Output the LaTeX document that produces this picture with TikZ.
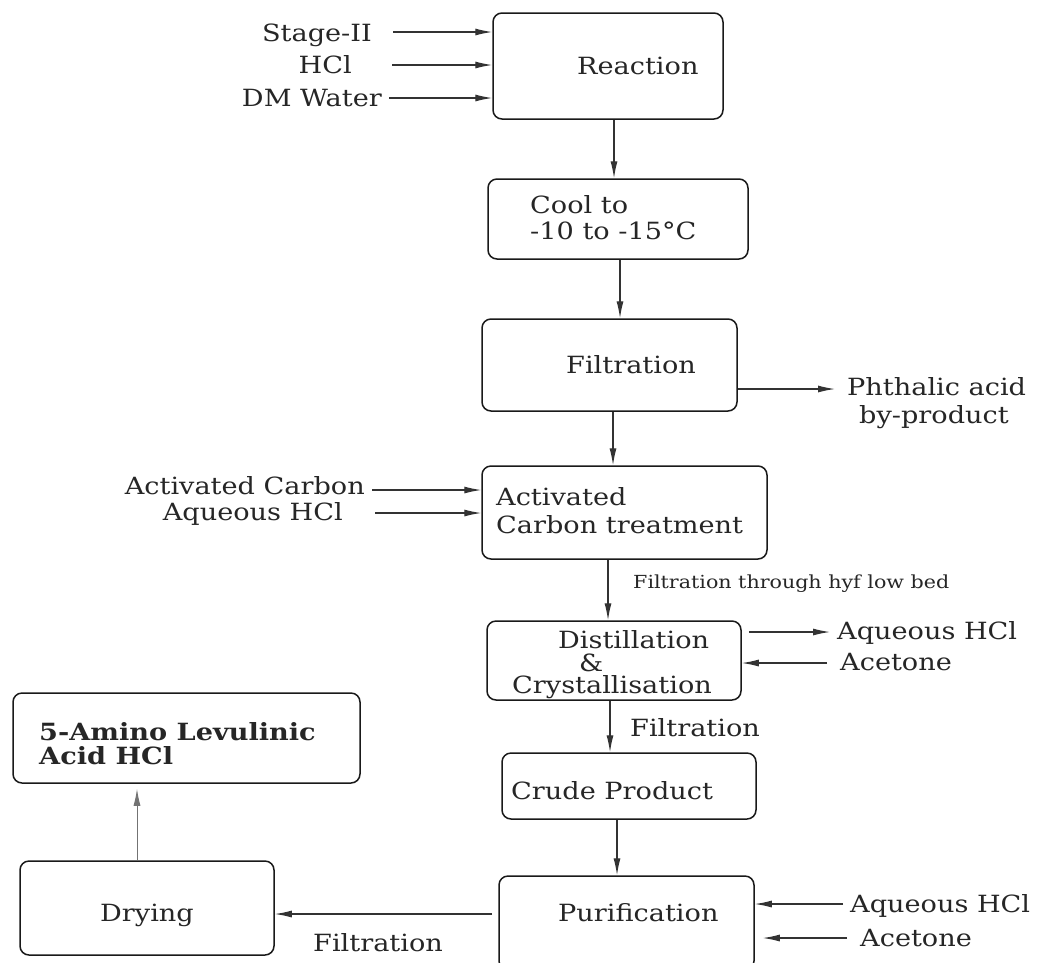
\documentclass[tikz,border=0pt]{standalone}
\usepackage{fontspec}
\setmainfont{DejaVu Serif}[FakeStretch=1.145]
\usetikzlibrary{arrows.meta, positioning}

\begin{document}
\begin{tikzpicture}[x=1pt,y=-1pt,
	box/.style={draw=black!90, line width=1.5pt, rounded corners=9pt, inner sep=0pt},
	arr/.style={-{Latex[length=17pt,width=7pt]}, line width=1.2pt, draw=black!80},
	txt/.style={inner sep=0pt, text=black!85, text height=17.3pt, text depth=0pt, font=\fontsize{23.7}{28}\selectfont},
	note/.style={txt, text height=13.2pt, font=\fontsize{18}{21}\selectfont}]
	\useasboundingbox (0,0) rectangle (1046,962);
	\node[box, minimum width=230, minimum height=106] (reac) at (608,66) {};
	\node[box, minimum width=260, minimum height=80] (cool) at (618,219) {};
	\node[box, minimum width=255, minimum height=92] (filt) at (609.5,365) {};
	\node[box, minimum width=285, minimum height=93] (actc) at (624.5,512.5) {};
	\node[box, minimum width=254, minimum height=79] (dist) at (614,660.5) {};
	\node[box, minimum width=254, minimum height=66] (crude) at (629,786) {};
	\node[box, minimum width=255, minimum height=94] (purif) at (626.5,923) {};
	\node[box, minimum width=254, minimum height=94] (dry) at (147,908) {};
	\node[box, minimum width=347, minimum height=90] (prod) at (186.5,738) {};
	% texts
	\node[txt, anchor=east] (tstage) at (372,33) {Stage-II};
	\node[txt, anchor=east] (thcl) at (352,65) {HCl};
	\node[txt, anchor=east] (twater) at (382,98) {DM Water};
	\node[txt, anchor=west] (treac) at (577,66) {Reaction};
	\node[txt, anchor=west] (tcool1) at (530,205) {Cool to};
	\node[txt, anchor=west] (tcool2) at (530,231) {-10 to -15°C};
	\node[txt, anchor=west] (tfilt) at (566,365) {Filtration};
	\node[txt, anchor=west] (tphth1) at (847,387) {Phthalic acid};
	\node[txt, anchor=west] (tphth2) at (859,415) {by-product};
	\node[txt, anchor=east] (tcarb) at (365,486) {Activated Carbon};
	\node[txt, anchor=east] (taq1) at (343,512) {Aqueous HCl};
	\node[txt, anchor=west] (tact1) at (496,497) {Activated};
	\node[txt, anchor=west] (tact2) at (496,525) {Carbon treatment};
	\node[note, anchor=west] (thyf) at (633,582) {Filtration through hyf low bed};
	\node[txt, anchor=west] (tdist1) at (558,640) {Distillation};
	\node[txt, anchor=west] (tdist2) at (579,663) {\&};
	\node[txt, anchor=west] (tdist3) at (512,685) {Crystallisation};
	\node[txt, anchor=west] (taq2) at (837,631) {Aqueous HCl};
	\node[txt, anchor=west] (tace1) at (840,662) {Acetone};
	\node[txt, anchor=west] (tfilt2) at (630,728) {Filtration};
	\node[txt, anchor=west] (tcrude) at (511,791) {Crude Product};
	\node[txt, anchor=west] (tpur) at (558,913) {Purification};
	\node[txt, anchor=west] (taq3) at (850,904) {Aqueous HCl};
	\node[txt, anchor=west] (tace2) at (860,938) {Acetone};
	\node[txt, anchor=west] (tfilt3) at (313,943) {Filtration};
	\node[txt, anchor=west] (tdry) at (100,913) {Drying};
	\node[txt, anchor=west, font=\fontsize{23.7}{28}\selectfont\bfseries] (tprod1) at (39,732) {5-Amino Levulinic};
	\node[txt, anchor=west, font=\fontsize{23.7}{28}\selectfont\bfseries] (tprod2) at (39,756) {Acid HCl};
	% feeds and flows
	\foreach \n/\x/\y in {a/393/32, b/392/65, c/389/98}
		{\coordinate (in\n) at (\x,\y); \draw[arr] (in\n) -- (in\n -| reac.west);}
	\foreach \n/\x/\y in {d/372/490, e/375/513}
		{\coordinate (in\n) at (\x,\y); \draw[arr] (in\n) -- (in\n -| actc.west);}
	\draw[arr] ([xshift=6]reac.south) -- ([xshift=6]reac.south |- cool.north);
	\draw[arr] ([xshift=2]cool.south) -- ([xshift=2]cool.south |- filt.north);
	\coordinate (outph) at (835,389);
	\draw[arr] (filt.east |- outph) -- (outph);
	\draw[arr] ([xshift=3.5]filt.south) -- ([xshift=3.5]filt.south |- actc.north);
	\draw[arr] ([xshift=-16.5]actc.south) -- ([xshift=-16.5]actc.south |- dist.north);
	\coordinate (outaq) at (830,632);
	\draw[arr] ([xshift=7]dist.east |- outaq) -- (outaq);
	\coordinate (inace) at (827,663);
	\draw[arr] (inace) -- (inace -| dist.east);
	\draw[arr] ([xshift=-4]dist.south) -- ([xshift=-4]dist.south |- crude.north);
	\draw[arr] ([xshift=-12]crude.south) -- ([xshift=-12]crude.south |- purif.north);
	\coordinate (inaq) at (843,904);
	\draw[arr] (inaq) -- (inaq -| purif.east);
	\coordinate (inac) at (847,938);
	\draw[arr] (inac) -- ([xshift=8]inac -| purif.east);
	\coordinate (outpur) at (492,914);
	\draw[arr] (outpur) -- (outpur -| dry.east);
	\draw[arr, draw=black!55, line width=1pt] ([xshift=-10]dry.north) -- ([xshift=-10,yshift=-5]dry.north |- prod.south);
\end{tikzpicture}
\end{document}
